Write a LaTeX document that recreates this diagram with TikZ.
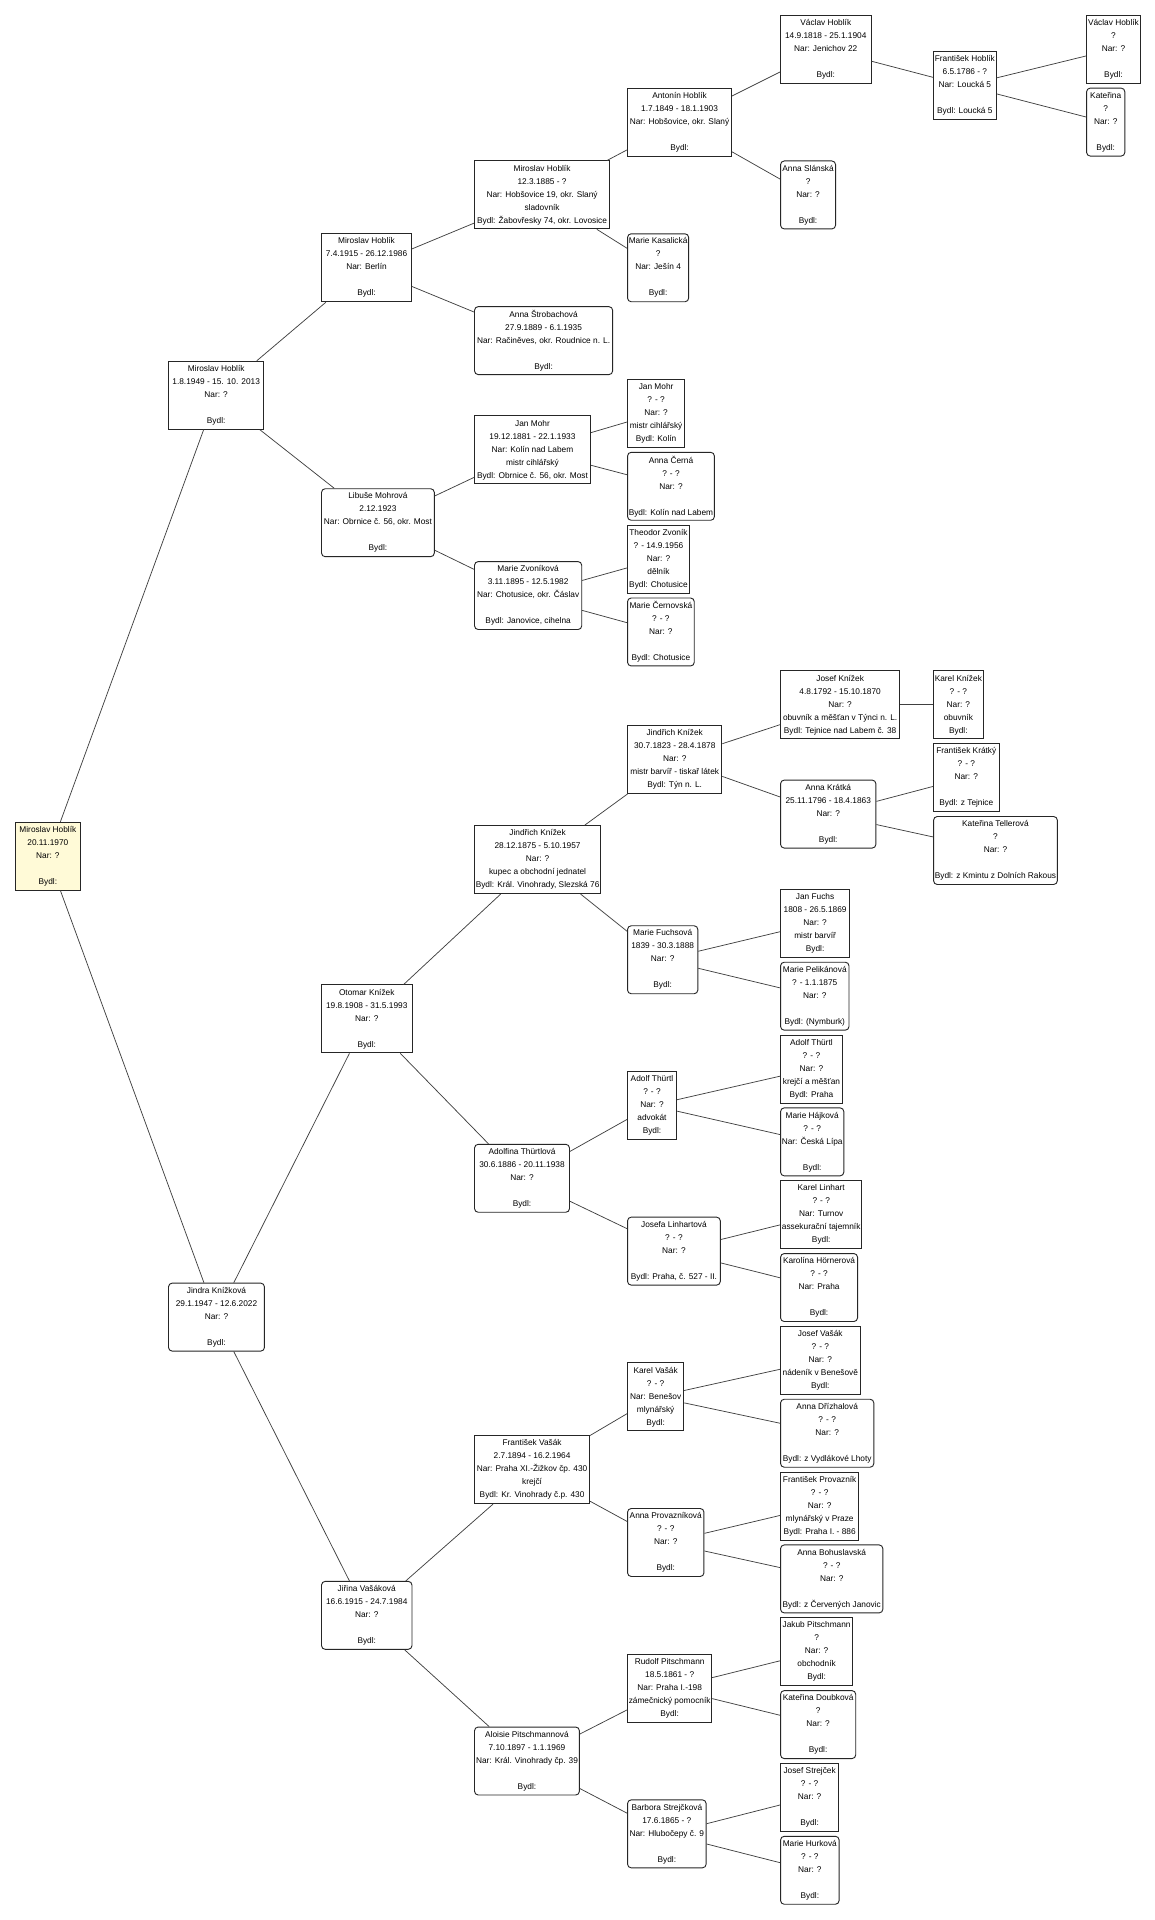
\documentclass[tikz,border=0pt]{standalone}
\usepackage{fontspec}
\setmainfont{Liberation Sans}
\newcommand\pfont{\fontsize{6.8}{10.64}\selectfont}
\definecolor{rootfill}{RGB}{255,250,215}
\tikzset{
  pbox/.style={draw=black!85, line width=0.75pt, fill=white, minimum height=55.6pt,
    inner xsep=1pt, inner ysep=0pt, align=center, anchor=west, font=\pfont},
  male/.style={pbox},
  female/.style={pbox, rounded corners=3pt},
  link/.style={draw=black!75, line width=0.6pt},
}
\begin{document}
\begin{tikzpicture}[x=1pt,y=-1pt]
\fill[white] (0,0) rectangle (945,1571);
\useasboundingbox (0,0) rectangle (945,1571);
% column 0
\node[male, fill=rootfill, minimum width=53pt] (r) at (12.3,700.55) {Miroslav Hoblík\\20.11.1970\\Nar: ?\\\mbox{}\\Bydl:};
% column 1
\node[male, minimum width=78pt] (f1949) at (137.5,323.4) {Miroslav Hoblík\\1.8.1949 - 15. 10. 2013\\Nar: ?\\\mbox{}\\Bydl:};
\node[female, minimum width=78.5pt] (jindra) at (137.5,1077.7) {Jindra Knížková\\29.1.1947 - 12.6.2022\\Nar: ?\\\mbox{}\\Bydl:};
% column 2
\node[male, minimum width=73.6pt] (m1915) at (262.7,219.1) {Miroslav Hoblík\\7.4.1915 - 26.12.1986\\Nar: Berlín\\\mbox{}\\Bydl:};
\node[female, minimum width=92.3pt] (libuse) at (262.7,427.7) {Libuše Mohrová\\2.12.1923\\Nar: Obrnice č. 56, okr. Most\\\mbox{}\\Bydl:};
\node[male, minimum width=74pt] (otomar) at (262.7,833.7) {Otomar Knížek\\19.8.1908 - 31.5.1993\\Nar: ?\\\mbox{}\\Bydl:};
\node[female, minimum width=74pt] (jirina) at (262.7,1321.7) {Jiřina Vašáková\\16.6.1915 - 24.7.1984\\Nar: ?\\\mbox{}\\Bydl:};
% column 3
\node[male, minimum width=110.5pt] (m1885) at (387.9,159.5) {Miroslav Hoblík\\12.3.1885 - ?\\Nar: Hobšovice 19, okr. Slaný\\sladovník\\Bydl: Žabovřesky 74, okr. Lovosice};
\node[female, minimum width=113pt] (strob) at (387.9,278.7) {Anna Štrobachová\\27.9.1889 - 6.1.1935\\Nar: Račiněves, okr. Roudnice n. L.\\\mbox{}\\Bydl:};
\node[male, minimum width=94.8pt] (mohr81) at (387.9,368.1) {Jan Mohr\\19.12.1881 - 22.1.1933\\Nar: Kolín nad Labem\\mistr cihlářský\\Bydl: Obrnice č. 56, okr. Most};
\node[female, minimum width=87.7pt] (zvon) at (387.9,487.3) {Marie Zvoníková\\3.11.1895 - 12.5.1982\\Nar: Chotusice, okr. Čáslav\\\mbox{}\\Bydl: Janovice, cihelna};
\node[male, minimum width=102.8pt] (jind75) at (387.9,703.35) {Jindřich Knížek\\28.12.1875 - 5.10.1957\\Nar: ?\\kupec a obchodní jednatel\\Bydl: Král. Vinohrady, Slezská 76};
\node[female, minimum width=77.7pt] (adolfina) at (387.9,964.1) {Adolfina Thürtlová\\30.6.1886 - 20.11.1938\\Nar: ?\\\mbox{}\\Bydl:};
\node[male, minimum width=94.2pt] (fvasak) at (387.9,1202.5) {František Vašák\\2.7.1894 - 16.2.1964\\Nar: Praha XI.-Žižkov čp. 430\\krejčí\\Bydl: Kr. Vinohrady č.p. 430};
\node[female, minimum width=85.8pt] (aloisie) at (387.9,1440.9) {Aloisie Pitschmannová\\7.10.1897 - 1.1.1969\\Nar: Král. Vinohrady čp. 39\\\mbox{}\\Bydl:};
% column 4
\node[male, minimum width=85.1pt] (antonin) at (513.1,99.9) {Antonín Hoblík\\1.7.1849 - 18.1.1903\\Nar: Hobšovice, okr. Slaný\\\mbox{}\\Bydl:};
\node[female, minimum width=50pt] (kasal) at (513.1,219.1) {Marie Kasalická\\?\\Nar: Ješín 4\\\mbox{}\\Bydl:};
\node[male, minimum width=46.7pt] (mohrf) at (513.1,338.3) {Jan Mohr\\? - ?\\Nar: ?\\mistr cihlářský\\Bydl: Kolín};
\node[female, minimum width=69pt] (cerna) at (513.1,397.9) {Anna Černá\\? - ?\\Nar: ?\\\mbox{}\\Bydl: Kolín nad Labem};
\node[male, minimum width=50.6pt] (theodor) at (513.1,457.5) {Theodor Zvoník\\? - 14.9.1956\\Nar: ?\\dělník\\Bydl: Chotusice};
\node[female, minimum width=54.6pt] (cernov) at (513.1,517.1) {Marie Černovská\\? - ?\\Nar: ?\\\mbox{}\\Bydl: Chotusice};
\node[male, minimum width=77.2pt] (jind23) at (513.1,621.4) {Jindřich Knížek\\30.7.1823 - 28.4.1878\\Nar: ?\\mistr barvíř - tiskař látek\\Bydl: Týn n. L.};
\node[female, minimum width=57.5pt] (fuchsova) at (513.1,785.3) {Marie Fuchsová\\1839 - 30.3.1888\\Nar: ?\\\mbox{}\\Bydl:};
\node[male, minimum width=40pt] (adolft) at (513.1,904.5) {Adolf Thürtl\\? - ?\\Nar: ?\\advokát\\Bydl:};
\node[female, minimum width=75.9pt] (josefa) at (513.1,1023.7) {Josefa Linhartová\\? - ?\\Nar: ?\\\mbox{}\\Bydl: Praha, č. 527 - II.};
\node[male, minimum width=46pt] (karelv) at (513.1,1142.9) {Karel Vašák\\? - ?\\Nar: Benešov\\mlynářský\\Bydl:};
\node[female, minimum width=62.5pt] (provaz) at (513.1,1262.1) {Anna Provazníková\\? - ?\\Nar: ?\\\mbox{}\\Bydl:};
\node[male, minimum width=67pt] (rudolf) at (513.1,1381.3) {Rudolf Pitschmann\\18.5.1861 - ?\\Nar: Praha I.-198\\zámečnický pomocník\\Bydl:};
\node[female, minimum width=64.3pt] (barbora) at (513.1,1500.5) {Barbora Strejčková\\17.6.1865 - ?\\Nar: Hlubočepy č. 9\\\mbox{}\\Bydl:};
% column 5
\node[male, minimum width=74pt] (vaclav18) at (638.3,40.3) {Václav Hoblík\\14.9.1818 - 25.1.1904\\Nar: Jenichov 22\\\mbox{}\\Bydl:};
\node[female, minimum width=45pt] (slanska) at (638.3,159.5) {Anna Slánská\\?\\Nar: ?\\\mbox{}\\Bydl:};
\node[male, minimum width=97.5pt] (josefk) at (638.3,576.7) {Josef Knížek\\4.8.1792 - 15.10.1870\\Nar: ?\\obuvník a měšťan v Týnci n. L.\\Bydl: Tejnice nad Labem č. 38};
\node[female, minimum width=78pt] (kratka) at (638.3,666.1) {Anna Krátká\\25.11.1796 - 18.4.1863\\Nar: ?\\\mbox{}\\Bydl:};
\node[male, minimum width=56.5pt] (janfuchs) at (638.3,755.5) {Jan Fuchs\\1808 - 26.5.1869\\Nar: ?\\mistr barvíř\\Bydl:};
\node[female, minimum width=56pt] (pelikan) at (638.3,815.1) {Marie Pelikánová\\? - 1.1.1875\\Nar: ?\\\mbox{}\\Bydl: (Nymburk)};
\node[male, minimum width=50.5pt] (adolftf) at (638.3,874.7) {Adolf Thürtl\\? - ?\\Nar: ?\\krejčí a měšťan\\Bydl: Praha};
\node[female, minimum width=51.4pt] (hajkova) at (638.3,934.3) {Marie Hájková\\? - ?\\Nar: Česká Lípa\\\mbox{}\\Bydl:};
\node[male, minimum width=66.5pt] (linhart) at (638.3,993.9) {Karel Linhart\\? - ?\\Nar: Turnov\\assekurační tajemník\\Bydl:};
\node[female, minimum width=63pt] (karolina) at (638.3,1053.5) {Karolína Hörnerová\\? - ?\\Nar: Praha\\\mbox{}\\Bydl:};
\node[male, minimum width=65pt] (josefv) at (638.3,1113.1) {Josef Vašák\\? - ?\\Nar: ?\\nádeník v Benešově\\Bydl:};
\node[female, minimum width=76.3pt] (drizhal) at (638.3,1172.7) {Anna Dřízhalová\\? - ?\\Nar: ?\\\mbox{}\\Bydl: z Vydlákové Lhoty};
\node[male, minimum width=64pt] (fprov) at (638.3,1232.3) {František Provazník\\? - ?\\Nar: ?\\mlynářský v Praze\\Bydl: Praha I. - 886};
\node[female, minimum width=83.7pt] (bohusl) at (638.3,1291.9) {Anna Bohuslavská\\? - ?\\Nar: ?\\\mbox{}\\Bydl: z Červených Janovic};
\node[male, minimum width=59pt] (jakub) at (638.3,1351.5) {Jakub Pitschmann\\?\\Nar: ?\\obchodník\\Bydl:};
\node[female, minimum width=61.5pt] (doubkova) at (638.3,1411.1) {Kateřina Doubková\\?\\Nar: ?\\\mbox{}\\Bydl:};
\node[male, minimum width=47.6pt] (strejcek) at (638.3,1470.7) {Josef Strejček\\? - ?\\Nar: ?\\\mbox{}\\Bydl:};
\node[female, minimum width=47.9pt] (hurkova) at (638.3,1530.3) {Marie Hurková\\? - ?\\Nar: ?\\\mbox{}\\Bydl:};
% column 6
\node[male, minimum width=51pt] (fhoblik) at (763.5,70.1) {František Hoblík\\6.5.1786 - ?\\Nar: Loucká 5\\\mbox{}\\Bydl: Loucká 5};
\node[male, minimum width=39.5pt] (karelk) at (763.5,576.7) {Karel Knížek\\? - ?\\Nar: ?\\obuvník\\Bydl:};
\node[male, minimum width=53.5pt] (fkratky) at (763.5,636.3) {František Krátký\\? - ?\\Nar: ?\\\mbox{}\\Bydl: z Tejnice};
\node[female, minimum width=99pt] (teller) at (763.5,695.9) {Kateřina Tellerová\\?\\Nar: ?\\\mbox{}\\Bydl: z Kmintu z Dolních Rakous};
% column 7
\node[male, minimum width=44pt] (vaclavtop) at (888.7,40.3) {Václav Hoblík\\?\\Nar: ?\\\mbox{}\\Bydl:};
\node[female, minimum width=31.3pt] (katerina) at (888.7,99.9) {Kateřina\\?\\Nar: ?\\\mbox{}\\Bydl:};
% connectors
\foreach \a/\b in {r/f1949, r/jindra, f1949/m1915, f1949/libuse, m1915/m1885, m1915/strob,
  m1885/antonin, m1885/kasal, antonin/vaclav18, antonin/slanska, vaclav18/fhoblik,
  fhoblik/vaclavtop, fhoblik/katerina, libuse/mohr81, libuse/zvon, mohr81/mohrf, mohr81/cerna,
  zvon/theodor, zvon/cernov, jindra/otomar, jindra/jirina, otomar/jind75, otomar/adolfina,
  jind75/jind23, jind75/fuchsova, jind23/josefk, jind23/kratka, josefk/karelk,
  kratka/fkratky, kratka/teller, fuchsova/janfuchs, fuchsova/pelikan,
  adolfina/adolft, adolfina/josefa, adolft/adolftf, adolft/hajkova, josefa/linhart, josefa/karolina,
  jirina/fvasak, jirina/aloisie, fvasak/karelv, fvasak/provaz, karelv/josefv, karelv/drizhal,
  provaz/fprov, provaz/bohusl, aloisie/rudolf, aloisie/barbora, rudolf/jakub, rudolf/doubkova,
  barbora/strejcek, barbora/hurkova}
  \draw[link] (\a) -- (\b);
\end{tikzpicture}
\end{document}
